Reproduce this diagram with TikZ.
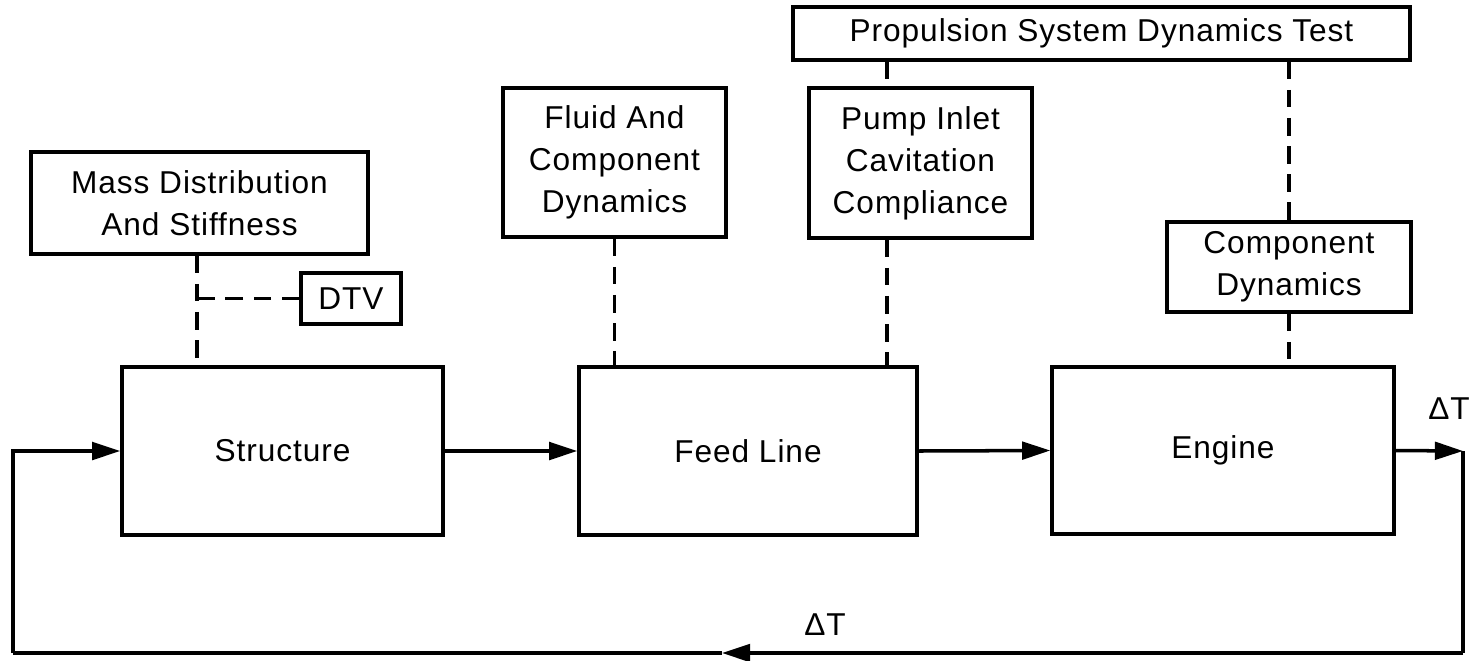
\documentclass[tikz,border=0pt]{standalone}
\usepackage{fontspec}
\setmainfont{Liberation Sans}[LetterSpace=3]
\usetikzlibrary{arrows.meta,calc}
\begin{document}
\begin{tikzpicture}[x=0.02cm,y=-0.02cm,
  box/.style={draw,line width=2pt,inner sep=0pt,align=center,font=\fontsize{18}{24}\selectfont},
  link/.style={line width=2pt,dash pattern=on 10pt off 6pt},
  flow/.style={line width=2pt,-{Triangle[length=16pt,width=10pt]}},
  plain/.style={line width=2pt},
  lbl/.style={inner sep=0pt,font=\fontsize{18}{24}\selectfont}]
\useasboundingbox (0,0) rectangle (1473,660);
% boxes
\node[box,minimum width={337*0.02cm},minimum height={102*0.02cm}] (mass) at (199.5,203) {Mass Distribution\\And Stiffness};
\node[box,minimum width={100*0.02cm},minimum height={51*0.02cm}] (dtv) at (351,298.5) {DTV};
\node[box,minimum width={223*0.02cm},minimum height={149*0.02cm}] (fluid) at (614.5,162.5) {Fluid And\\Component\\Dynamics};
\node[box,minimum width={223*0.02cm},minimum height={150*0.02cm}] (pump) at (920.5,163) {Pump Inlet\\Cavitation\\Compliance};
\node[box,minimum width={617*0.02cm},minimum height={53*0.02cm}] (prop) at (1101.5,33.5) {Propulsion System Dynamics Test};
\node[box,minimum width={244*0.02cm},minimum height={90*0.02cm}] (comp) at (1289,267) {Component\\Dynamics};
\node[box,minimum width={321*0.02cm},minimum height={168*0.02cm}] (struct) at (282.5,451) {Structure};
\node[box,minimum width={338*0.02cm},minimum height={168*0.02cm}] (feed) at (748,451) {Feed Line};
\node[box,minimum width={342*0.02cm},minimum height={167*0.02cm}] (engine) at (1223,450.5) {Engine};
% labels
\node[lbl] (dt1) at (1449,409) {ΔT};
\node[lbl] (dt2) at (825,625) {ΔT};
% coordinates
\coordinate (px) at (887,0);
\coordinate (mx) at (197,0);
\coordinate (fr) at (1463,451);
\coordinate (br) at (1463,653);
\coordinate (tip) at (722,653);
\coordinate (bl) at (13,653);
% dashed links
\draw[link] (mx |- mass.south) -- (mx |- struct.north);
\draw[link] (dtv.west) -- (dtv.west -| mx);
\draw[link] (fluid.south) -- (fluid.south |- feed.north);
\draw[link] (px |- prop.south) -- (px |- pump.north);
\draw[link] (px |- pump.south) -- (px |- feed.north);
\draw[link] (prop.south -| comp.north) -- (comp.north);
\draw[link] (comp.south) -- (comp.south |- engine.north);
% flow
\draw[flow] (struct.east) -- (feed.west);
\draw[flow] (feed.east) -- (engine.west);
\draw[flow] (engine.east) -- (fr);
\draw[plain] (fr) -- (br);
\draw[flow] (br) -- (tip);
\draw[plain] (tip) -- (bl);
\draw[flow] (bl) -- (bl |- struct.west) -- (struct.west);
\end{tikzpicture}
\end{document}
